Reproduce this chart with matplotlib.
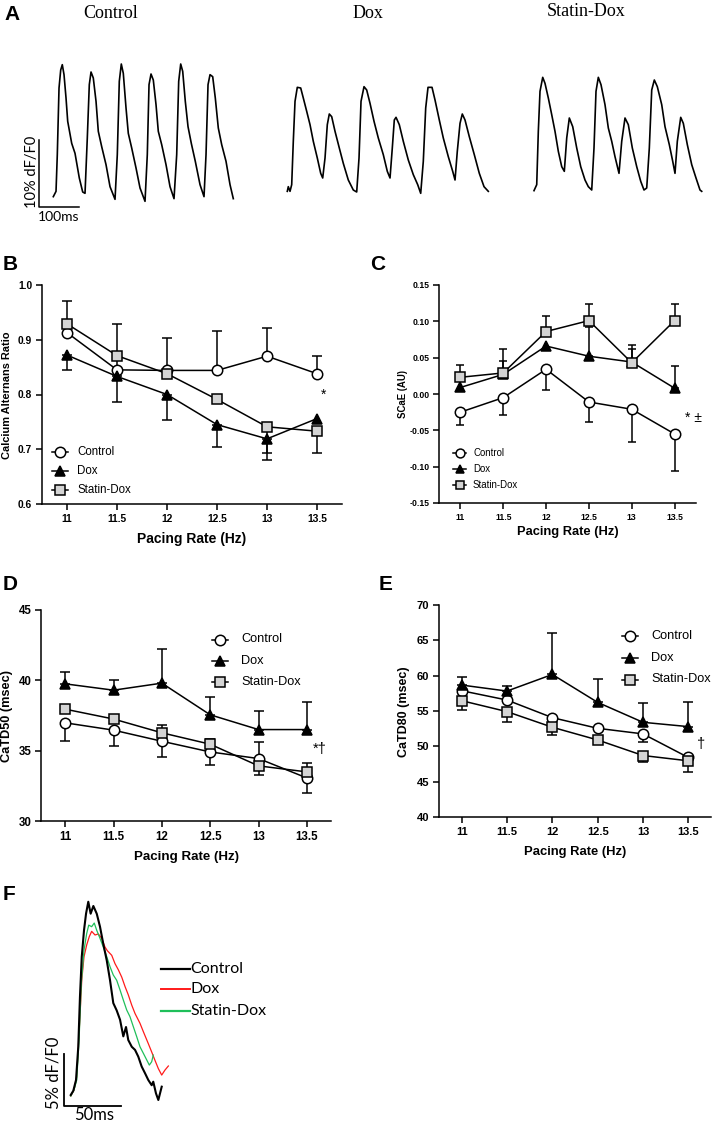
import numpy as np
import matplotlib
matplotlib.use("Agg")
import matplotlib.pyplot as plt
from matplotlib.lines import Line2D

plt.rcParams['font.family'] = ['Liberation Sans', 'DejaVu Sans']

W, H = 714, 1121
fig = plt.figure(figsize=(W / 100, H / 100), dpi=100)

# ------------------------------------------------------------------ data
rates = [11, 11.5, 12, 12.5, 13, 13.5]
rate_labels = ["11", "11.5", "12", "12.5", "13", "13.5"]
groups = ["Control", "Dox", "Statin-Dox"]

# B: calcium alternans ratio
alt_control = [0.913, 0.845, 0.844, 0.844, 0.870, 0.838]
alt_control_lo = [0, 0, 0, 0, 0, 0]
alt_control_hi = [0, 0.084, 0.059, 0.072, 0.051, 0.032]
alt_dox = [0.872, 0.833, 0.800, 0.745, 0.719, 0.756]
alt_dox_lo = [0.028, 0.046, 0.047, 0.041, 0.038, 0]
alt_dox_hi = [0, 0, 0, 0, 0, 0]
alt_statin = [0.929, 0.871, 0.838, 0.791, 0.741, 0.733]
alt_statin_lo = [0, 0, 0, 0, 0.048, 0.040]
alt_statin_hi = [0.041, 0, 0, 0, 0, 0]

# C: SCaE (AU)
scae_control = [-0.025, -0.005, 0.034, -0.011, -0.021, -0.055]
scae_control_lo = [0.018, 0.024, 0.028, 0.028, 0.045, 0.051]
scae_control_hi = [0, 0, 0, 0, 0, 0]
scae_dox = [0.009, 0.027, 0.066, 0.052, 0.044, 0.008]
scae_dox_lo = [0, 0, 0, 0, 0, 0]
scae_dox_hi = [0, 0.018, 0, 0.040, 0.018, 0.031]
scae_statin = [0.023, 0.029, 0.086, 0.101, 0.043, 0.101]
scae_statin_lo = [0, 0, 0, 0, 0, 0]
scae_statin_hi = [0.017, 0.033, 0.022, 0.023, 0.025, 0.023]

# D: CaTD50 (msec)
td50_control = [36.98, 36.46, 35.67, 34.91, 34.44, 33.06]
td50_control_lo = [1.3, 1.1, 1.1, 0.95, 0, 1.05]
td50_control_hi = [0, 0, 0, 0, 1.2, 0]
td50_dox = [39.75, 39.3, 39.8, 37.55, 36.5, 36.5]
td50_dox_lo = [0, 0, 0, 0, 0, 0]
td50_dox_hi = [0.85, 0.7, 2.4, 1.25, 1.35, 1.95]
td50_statin = [37.95, 37.25, 36.27, 35.46, 33.92, 33.49]
td50_statin_lo = [0, 0, 0, 0, 0.65, 0]
td50_statin_hi = [0, 0, 0.55, 0.35, 0, 0.65]

# E: CaTD80 (msec)
td80_control = [57.87, 56.55, 54.06, 52.55, 51.76, 48.42]
td80_control_lo = [0, 0, 0, 0, 1.2, 0]
td80_control_hi = [0, 0, 0, 0, 0, 0]
td80_dox = [58.67, 57.82, 60.17, 56.22, 53.40, 52.79]
td80_dox_lo = [0, 0, 0, 0, 0, 0]
td80_dox_hi = [1.2, 0.65, 5.8, 3.25, 2.8, 3.45]
td80_statin = [56.46, 54.91, 52.70, 50.90, 48.70, 47.95]
td80_statin_lo = [1.3, 1.5, 1.1, 0.5, 0.85, 1.65]
td80_statin_hi = [0, 0, 0, 0, 0, 0]

# A: example calcium transients (time ms, dF/F0 %)
trace_control_t = [0, 6.8, 10, 14.3, 18.5, 22.5, 26.8, 31.8, 36, 46, 54.3, 65, 73.5, 79.3,
                   85, 90, 94.3, 100, 106.8, 112.5, 121, 131.8, 141.8, 154.3,
                   160, 165, 170, 175, 181.8, 187.5, 196, 206.8, 216.8, 229.3,
                   235, 239.3, 244.3, 250, 256.8, 262.5, 271, 281.8, 291.8, 301.8,
                   308.5, 313.5, 318.5, 323.5, 330, 336.8, 345, 355, 366.8, 376.8,
                   381.8, 386.8, 391.8, 398.5, 405, 412.5, 421, 431.8, 441.8, 450]
trace_control_v = [1.5, 2.3, 7.8, 17.8, 20.5, 21.3, 19.8, 16.3, 12.8, 9.5, 8.0, 4.3, 2.2, 2.0,
                   10.3, 18.3, 20.2, 19.3, 15.8, 11.3, 9.0, 6.3, 3.0, 1.1,
                   7.8, 18.8, 21.4, 20.0, 14.8, 11.0, 8.8, 5.8, 2.8, 0.8,
                   7.8, 18.3, 19.9, 19.0, 15.3, 11.3, 9.3, 6.3, 3.0, 1.2,
                   7.8, 18.8, 21.4, 20.3, 15.8, 12.0, 9.5, 6.8, 3.3, 1.5,
                   7.8, 18.3, 19.8, 19.5, 16.3, 11.8, 9.3, 6.8, 3.3, 1.2]
trace_dox_t = [0, 2.5, 6.8, 11, 15, 19.3, 25, 33.5, 40, 48.5, 56.8, 65, 75, 83.5, 88.5,
               94.3, 100, 105, 111, 119.3, 130, 140, 152.5, 165, 173.5,
               179.3, 184.3, 191.8, 198.5, 206.8, 216.8, 227.5, 240, 250, 256.8,
               262.5, 267.5, 271.8, 280, 290, 302.5, 315, 326, 333.5,
               340, 346, 351.8, 361.8, 369.3, 380, 390, 402.5, 413.5, 419.3,
               425, 431.8, 437.5, 444.3, 455, 467.5, 480, 491.8, 502.5]
trace_dox_v = [2.3, 3.0, 2.3, 3.3, 9.8, 15.8, 17.9, 17.8, 16.3, 14.3, 12.3, 9.8, 7.3, 5.0, 4.3,
               7.3, 12.3, 13.9, 13.5, 11.3, 8.8, 6.5, 4.0, 2.5, 2.2,
               7.3, 15.8, 18.0, 17.5, 15.5, 12.8, 10.3, 7.8, 5.3, 4.3,
               8.8, 13.0, 13.4, 12.3, 9.8, 7.0, 4.8, 3.3, 2.0,
               6.8, 14.8, 17.9, 17.9, 16.0, 13.0, 10.3, 7.5, 5.3, 4.0,
               8.3, 12.5, 13.9, 13.0, 10.5, 7.8, 5.0, 3.0, 2.3]
trace_statin_t = [0, 6.8, 10.8, 15, 21.8, 27.5, 35.8, 44.3, 52.5, 60.8, 69.3, 75.8,
                  81.8, 88.3, 96.8, 106.8, 116.8, 127.5, 135.8, 144.3,
                  150, 155, 160.8, 167.5, 177.5, 185.8, 194.3, 202.5, 212.5,
                  219.3, 227.5, 235.8, 245.8, 256.8, 266.8, 275, 281.8,
                  288.3, 294.3, 300.8, 308.3, 319.3, 327.5, 338.3, 346.8, 352.5,
                  358.3, 366.8, 373.3, 383.3, 394.3, 405, 415, 419.3]
trace_statin_v = [2.4, 3.3, 11.3, 17.3, 19.4, 18.5, 16.3, 13.8, 11.3, 8.3, 6.0, 5.3,
                  10.3, 13.3, 12.0, 8.8, 6.0, 4.0, 3.0, 2.5,
                  8.8, 17.3, 19.4, 18.3, 15.3, 11.8, 9.8, 7.5, 5.0,
                  9.8, 13.3, 12.3, 8.8, 6.0, 3.8, 2.5, 2.8,
                  8.8, 17.5, 19.0, 18.0, 15.3, 12.0, 9.3, 6.8, 5.0,
                  9.8, 13.4, 12.5, 9.3, 6.3, 4.3, 2.5, 2.3]

# F: superimposed averaged transients (time ms, dF/F0 %)
f_control_t = [5.7, 8.0, 10.4, 12.4, 13.9, 15.5, 17.5, 19.3, 21.3, 23.4, 25.8, 28.8, 31.7,
               34.6, 37.7, 40.6, 43.5, 46.5, 49.5, 52.4, 54.8, 56.8, 59.9, 62.8, 65.7,
               68.7, 71.7, 74.6, 77.6, 79.0, 81.4, 83.5, 86.5]
f_control_v = [1.06, 1.47, 2.5, 5.7, 10.5, 14.36, 16.9, 18.5, 19.65, 18.5, 19.24, 18.5, 17.25,
               15.6, 14.0, 12.1, 9.9, 9.2, 8.3, 6.7, 7.6, 6.35, 5.7, 5.4, 4.75,
               3.8, 3.15, 2.5, 2.0, 2.34, 1.22, 0.58, 1.86]
f_dox_t = [5.7, 8.6, 11.0, 13.3, 15.5, 17.5, 19.9, 22.2, 24.3, 27.3, 30.2, 33.2, 36.1, 38.2,
           42.1, 45.0, 48.0, 51.0, 53.9, 56.8, 59.9, 62.8, 67.2, 70.2, 74.6, 77.6, 80.5,
           83.5, 86.5, 89.4, 92.4]
f_dox_v = [0.96, 1.54, 2.8, 7.3, 12.1, 14.36, 15.5, 16.3, 16.8, 16.45, 16.55, 16.13, 15.3, 14.94,
           14.5, 13.7, 13.1, 12.4, 11.5, 10.7, 9.7, 8.9, 7.96, 7.15, 6.0, 5.2, 4.4,
           3.6, 2.98, 3.46, 3.85]
f_statin_t = [5.7, 8.6, 11.0, 13.1, 15.1, 17.5, 19.9, 21.7, 24.3, 26.6, 28.8, 31.7, 34.6, 37.7,
              40.6, 43.5, 46.5, 49.5, 52.4, 55.4, 58.3, 61.3, 64.3, 67.2, 70.2, 73.2, 75.5,
              77.6, 79.0]
f_statin_v = [0.96, 1.54, 2.5, 6.35, 11.8, 15.0, 16.6, 17.4, 17.25, 17.6, 16.9, 16.13, 15.3, 14.36,
              13.4, 12.6, 12.1, 11.16, 10.2, 9.24, 8.6, 7.63, 6.67, 5.7, 5.07, 4.43, 3.94,
              4.26, 4.9]


# ------------------------------------------------------------------ helpers
def px_axes(l, t, r, b):
    return fig.add_axes([l / W, 1 - b / H, (r - l) / W, (b - t) / H])


def fig_text(x, y, s, **kw):
    fig.text(x / W, 1 - y / H, s, **kw)


styles = {
    "Control": dict(marker='o', mfc='white', ms=7.5),
    "Dox": dict(marker='^', mfc='black', ms=7),
    "Statin-Dox": dict(marker='s', mfc='#d4d4d4', ms=7.5),
}
LW = 1.1


def draw_series(ax, y, lo, hi, name, cap=3.5):
    x = np.array(rates, float)
    y = np.array(y, float)
    lo = np.array(lo, float)
    hi = np.array(hi, float)
    m = lo > 0
    if m.any():
        ax.errorbar(x[m], y[m], yerr=[lo[m], np.zeros(m.sum())], fmt='none', ecolor='black',
                    elinewidth=LW, capsize=cap, capthick=LW, zorder=2)
    m = hi > 0
    if m.any():
        ax.errorbar(x[m], y[m], yerr=[np.zeros(m.sum()), hi[m]], fmt='none', ecolor='black',
                    elinewidth=LW, capsize=cap, capthick=LW, zorder=2)
    st = styles[name]
    ax.plot(x, y, '-', color='black', lw=LW, marker=st['marker'], mfc=st['mfc'], mec='black',
            mew=1.1, ms=st['ms'], zorder=3, clip_on=False)


def style_axes(ax, ylim, yticks, yticklabels, tick_fs, xlab_fs, ylab, ylab_fs,
               xlab_xy, ylab_xy):
    ax.set_xlim(10.75, 13.75)
    ax.set_ylim(*ylim)
    ax.set_xticks(rates)
    ax.set_xticklabels(rate_labels, fontsize=tick_fs, fontweight='bold')
    ax.set_yticks(yticks)
    ax.set_yticklabels(yticklabels, fontsize=tick_fs, fontweight='bold')
    for s in ['top', 'right']:
        ax.spines[s].set_visible(False)
    for s in ['left', 'bottom']:
        ax.spines[s].set_linewidth(LW)
    ax.tick_params(direction='out', length=4, width=LW, pad=3)
    ax.set_xlabel("Pacing Rate (Hz)", fontsize=xlab_fs, fontweight='bold')
    ax.xaxis.set_label_coords(*xlab_xy)
    ax.xaxis.label.set_va('center')
    ax.set_ylabel(ylab, fontsize=ylab_fs, fontweight='bold')
    ax.yaxis.set_label_coords(*ylab_xy)
    ax.yaxis.label.set_va('center')


def legend_block(x_line0, x_line1, x_text, ys, fs, msscale=1.0):
    for name, y in zip(groups, ys):
        st = styles[name]
        yy = 1 - y / H
        fig.add_artist(Line2D([x_line0 / W, x_line1 / W], [yy, yy], color='black', lw=LW))
        fig.add_artist(Line2D([(x_line0 + x_line1) / 2 / W], [yy], marker=st['marker'],
                              mfc=st['mfc'], mec='black', mew=1.1, ms=st['ms'] * msscale,
                              ls='none'))
        fig_text(x_text, y, name, fontsize=fs, va='center', ha='left')


# ------------------------------------------------------------------ panel A
axA = px_axes(0, 0, W, 230)
axA.set_xlim(0, W * 2.5)
axA.set_ylim(-3.5, 31.0)
axA.axis('off')
for tt, vv, t0 in [(trace_control_t, trace_control_v, 133.25),
                   (trace_dox_t, trace_dox_v, 718.25),
                   (trace_statin_t, trace_statin_v, 1335.0)]:
    axA.plot(np.array(tt) + t0, vv, color='black', lw=1.2)
axA.plot([98.25, 98.25, 198.25], [10, 0, 0], color='black', lw=1.1)
axA.text(81.0, 5.2, "10% dF/F0", rotation=90, ha='center', va='center',
         fontsize=10.5, family=['Lato', 'DejaVu Sans'])
axA.text(147.5, -1.6, "100ms", ha='center', va='center', fontsize=10,
         family=['Lato', 'DejaVu Sans'])
serif = ['Liberation Serif', 'DejaVu Serif']
fig_text(111, 14, "Control", ha='center', va='center', fontsize=13, family=serif)
fig_text(368, 14, "Dox", ha='center', va='center', fontsize=13, family=serif)
fig_text(586, 12, "Statin-Dox", ha='center', va='center', fontsize=13, family=serif)

# ------------------------------------------------------------------ panel B
axB = px_axes(42, 285, 342, 504)
draw_series(axB, alt_control, alt_control_lo, alt_control_hi, "Control")
draw_series(axB, alt_dox, alt_dox_lo, alt_dox_hi, "Dox")
draw_series(axB, alt_statin, alt_statin_lo, alt_statin_hi, "Statin-Dox")
style_axes(axB, (0.6, 1.0), [0.6, 0.7, 0.8, 0.9, 1.0], ["0.6", "0.7", "0.8", "0.9", "1.0"],
           7.4, 10, "Calcium Alternans Ratio", 7.9, (0.5, -0.16), (-0.116, 0.498))
axB.text(13.57, 0.8, "*", fontsize=10, ha='center', va='center')
legend_block(52, 68, 77, [452, 471, 490], 8.3)

# ------------------------------------------------------------------ panel C
axC = px_axes(439, 285, 696, 503)
draw_series(axC, scae_control, scae_control_lo, scae_control_hi, "Control", cap=3.2)
draw_series(axC, scae_dox, scae_dox_lo, scae_dox_hi, "Dox", cap=3.2)
draw_series(axC, scae_statin, scae_statin_lo, scae_statin_hi, "Statin-Dox", cap=3.2)
style_axes(axC, (-0.15, 0.15), [-0.15, -0.10, -0.05, 0.0, 0.05, 0.10, 0.15],
           ["-0.15", "-0.10", "-0.05", "0.00", "0.05", "0.10", "0.15"],
           6.2, 9.3, "SCaE (AU)", 6.9, (0.5, -0.132), (-0.139, 0.5))
axC.text(13.62, -0.033, "* \u00b1", fontsize=10, ha='left', va='center')
legend_block(453, 466, 473, [453, 469, 484.5], 6.9, msscale=0.85)

# ------------------------------------------------------------------ panel D
axD = px_axes(41, 610, 331, 821)
draw_series(axD, td50_control, td50_control_lo, td50_control_hi, "Control")
draw_series(axD, td50_dox, td50_dox_lo, td50_dox_hi, "Dox")
draw_series(axD, td50_statin, td50_statin_lo, td50_statin_hi, "Statin-Dox")
style_axes(axD, (30, 45), [30, 35, 40, 45], ["30", "35", "40", "45"],
           8.3, 9.6, "CaTD50 (msec)", 9.2, (0.5, -0.169), (-0.116, 0.498))
axD.text(13.56, 35.1, "*\u2020", fontsize=10.5, ha='left', va='center')
legend_block(212, 228, 241, [639.5, 661, 682], 9.2)

# ------------------------------------------------------------------ panel E
axE = px_axes(439, 605, 711, 817)
draw_series(axE, td80_control, td80_control_lo, td80_control_hi, "Control")
draw_series(axE, td80_dox, td80_dox_lo, td80_dox_hi, "Dox")
draw_series(axE, td80_statin, td80_statin_lo, td80_statin_hi, "Statin-Dox")
style_axes(axE, (40, 70), [40, 45, 50, 55, 60, 65, 70], ["40", "45", "50", "55", "60", "65", "70"],
           8.0, 9.4, "CaTD80 (msec)", 9.0, (0.5, -0.164), (-0.129, 0.497))
axE.text(13.6, 50.3, "\u2020", fontsize=10.5, ha='left', va='center')
legend_block(622, 638, 651, [636, 658, 679.5], 9.2)

# ------------------------------------------------------------------ panel F
axF = px_axes(0, 880, 400, H)
axF.set_xlim(-57.1, 298.1)
axF.set_ylim(-1.44, 21.74)
axF.axis('off')
axF.plot(f_dox_t, f_dox_v, color='#ff1a1a', lw=0.9)
axF.plot(f_statin_t, f_statin_v, color='#1fbf5a', lw=0.9)
axF.plot(f_control_t, f_control_v, color='black', lw=1.5)
axF.plot([0, 0, 50], [5, 0, 0], color='black', lw=1.3)
lato = ['Lato', 'DejaVu Sans']
axF.text(-10.0, 3.2, "5% dF/F0", rotation=90, ha='center', va='center', fontsize=12, family=lato)
axF.text(26.4, -0.85, "50ms", ha='center', va='center', fontsize=12, family=lato)
for name, col, lw, yv in [("Control", 'black', 1.6, 13.18), ("Dox", '#ff1a1a', 1.4, 11.26),
                          ("Statin-Dox", '#1fbf5a', 1.6, 9.14)]:
    axF.plot([85.6, 111.6], [yv, yv], color=col, lw=lw)
    axF.text(112.2, yv, name, ha='left', va='center', fontsize=11.5, family=lato)

# ------------------------------------------------------------------ panel letters
for letter, x, y in [("A", 12, 14), ("B", 10, 264), ("C", 378, 264), ("D", 10, 585),
                     ("E", 386, 585), ("F", 9, 895)]:
    fig_text(x, y, letter, fontsize=15, fontweight='bold', ha='center', va='center')

fig.savefig("out.png", dpi=100)
